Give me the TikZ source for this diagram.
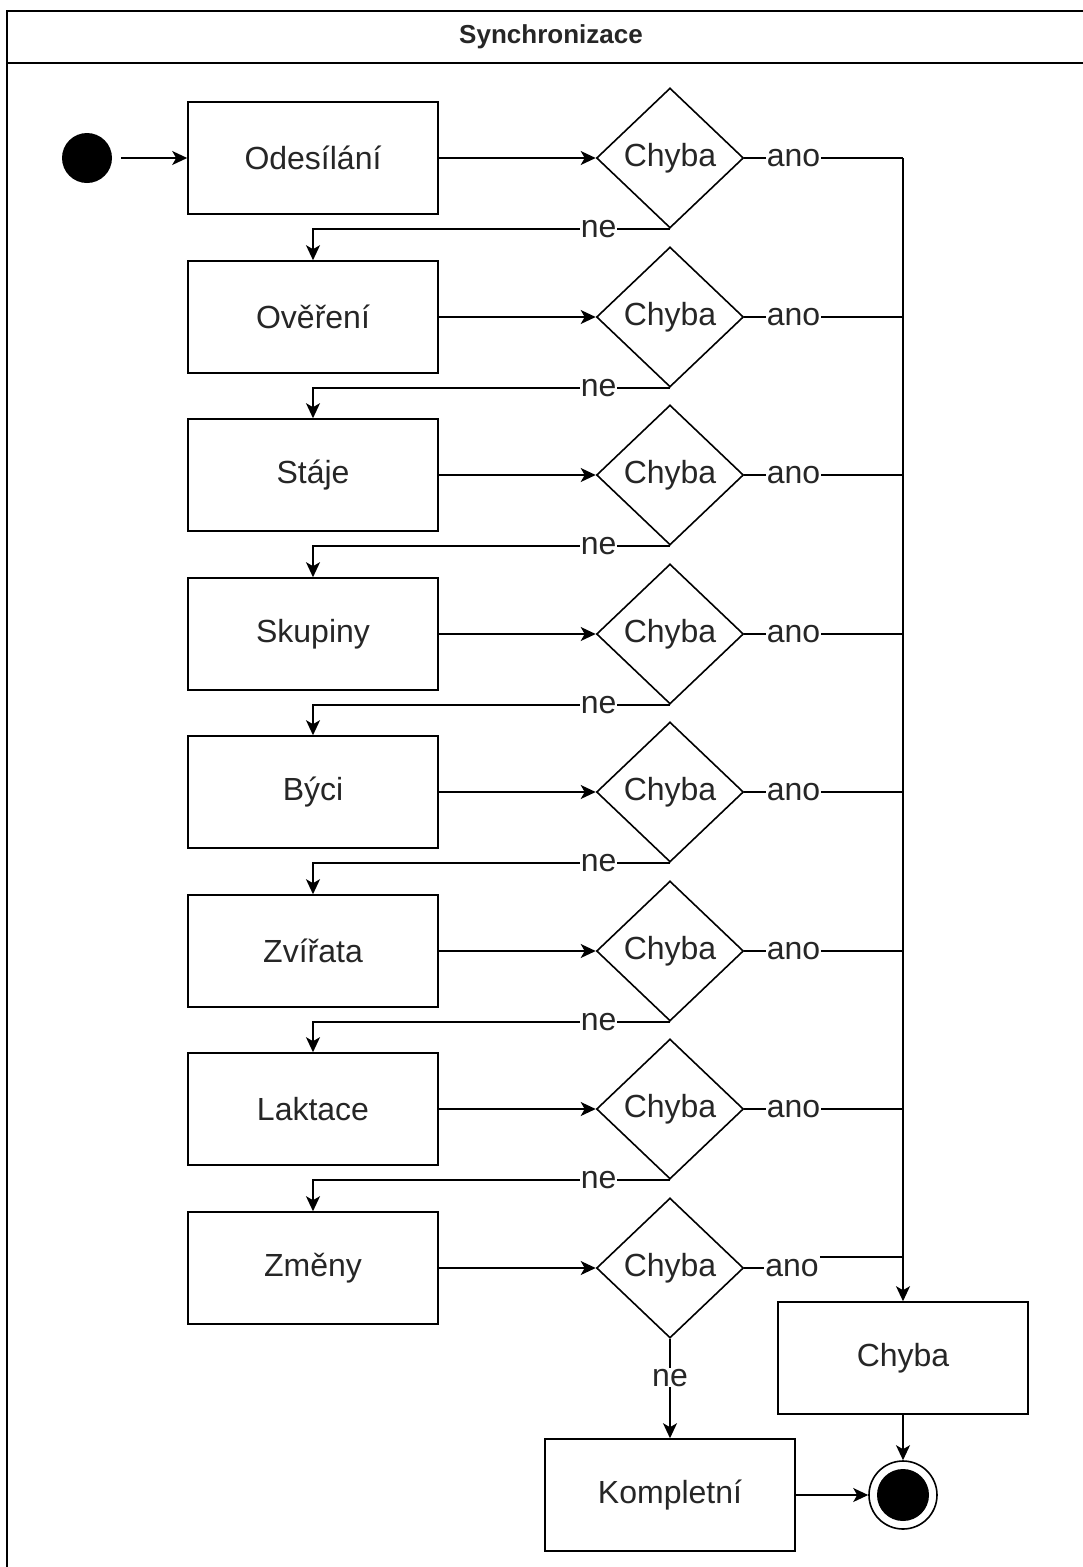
\documentclass[tikz,border=0pt]{standalone}
\usepackage{fontspec}
\setmainfont{Liberation Sans}
\usetikzlibrary{shapes.geometric,arrows.meta}
\begin{document}
\begin{tikzpicture}[x=1pt,y=-1pt,
  every node/.style={font=\fontsize{32}{36}\selectfont, text=black!85},
  line/.style={line width=1.6pt, draw=black},
  arr/.style={line width=1.6pt, draw=black, -{Stealth[length=15pt,width=14pt,inset=4pt]}},
  actbox/.style={draw, line width=1.6pt, minimum width=250pt, minimum height=112pt, inner sep=0pt},
  decis/.style={draw, line width=1.6pt, diamond, minimum width=147pt, minimum height=140pt, inner sep=0pt},
  lbl/.style={fill=white, inner sep=1pt},
]
\useasboundingbox (0,0) rectangle (1083,1567);
\clip (0,0) rectangle (1083,1567);
% frame
\draw[line width=1.6pt] (7,11) rectangle (1100,1600);
\draw[line width=1.6pt] (7,63) -- (1100,63);
\node[font=\fontsize{26}{30}\selectfont\bfseries, text=black!85] (title) at (551,37) {Synchronizace};

% start
\node[circle, fill=black, minimum size=50pt, inner sep=0pt] (start) at (87,158) {};

% activity boxes
\node[actbox] (b1) at (313,158) {Odesílání};
\node[actbox] (b2) at (313,317) {Ověření};
\node[actbox] (b3) at (313,475) {Stáje};
\node[actbox] (b4) at (313,634) {Skupiny};
\node[actbox] (b5) at (313,792) {Býci};
\node[actbox] (b6) at (313,951) {Zvířata};
\node[actbox] (b7) at (313,1109) {Laktace};
\node[actbox] (b8) at (313,1268) {Změny};

% decisions
\foreach \i/\y in {1/158,2/317,3/475,4/634,5/792,6/951,7/1109,8/1268}{
  \node[decis] (d\i) at (670,\y) {Chyba};
}

\node[actbox] (err) at (903,1358) {Chyba};
\node[actbox] (komp) at (670,1495) {Kompletní};

% end
\node[circle, draw, line width=1.6pt, minimum size=68pt, inner sep=0pt] (end) at (903,1495) {};
\node[circle, fill=black, minimum size=52pt, inner sep=0pt] (endin) at (903,1495) {};

% connectors
\coordinate (s0) at (121,158);
\draw[arr] (s0) -- (b1.west);
\foreach \i in {1,...,8}{
  \draw[arr] (b\i.east) -- (d\i.west);
}
\foreach \i/\j in {1/2,2/3,3/4,4/5,5/6,6/7,7/8}{
  \draw[arr] (d\i.south) -| node[lbl,pos=0.1]{ne} (b\j.north);
}
\coordinate (busTop) at (903,158);
\draw[arr] (busTop) -- (err.north);
\foreach \i in {1,...,7}{
  \draw[line] (d\i.east) -- node[lbl,pos=0.31]{ano} (d\i.east -| busTop);
}
\node[lbl] (ano8) at (792,1268) {ano};
\coordinate (bus8) at (903,1257);
\draw[line] (d8.east) -- (ano8.west);
\draw[line] (ano8.east |- bus8) -- (bus8);

\draw[arr] (d8.south) -- node[lbl,pos=0.39]{ne} (komp.north);
\draw[arr] (komp.east) -- (end.west);
\draw[arr] (err.south) -- (end.north);
\end{tikzpicture}
\end{document}
